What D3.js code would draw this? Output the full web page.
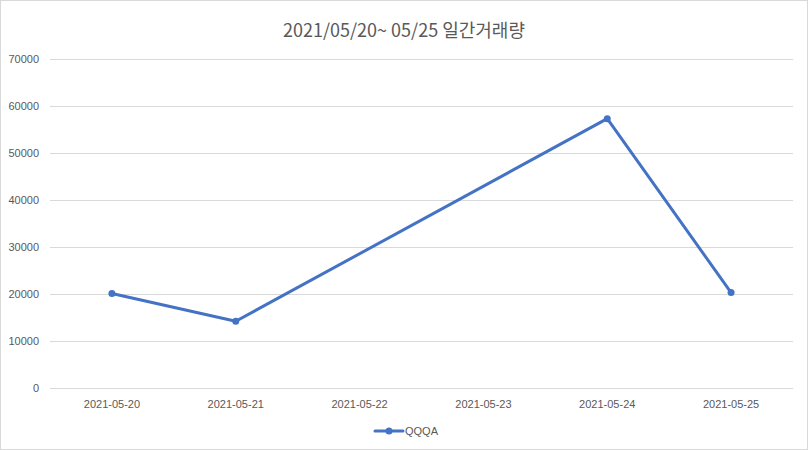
<!DOCTYPE html>
<html>
<head>
<meta charset="utf-8">
<script src="https://cdn.jsdelivr.net/npm/d3@7"></script>
<style>
  body { margin: 0; background: #fff; }
  svg { display: block; }
</style>
</head>
<body>
<script>
// chart data
var dates = ["2021-05-20", "2021-05-21", "2021-05-22", "2021-05-23", "2021-05-24", "2021-05-25"];
var volumes = [20100, 14200, null, null, 57300, 20300];
var yTicks = [0, 10000, 20000, 30000, 40000, 50000, 60000, 70000];
var seriesName = "QQQA";
var title = "2021/05/20~ 05/25 일간거래량";

var W = 808, H = 450;
var margin = {top: 59, right: 15, bottom: 62, left: 50},
    width = W - margin.left - margin.right,
    height = H - margin.top - margin.bottom;

var svg = d3.select("body").append("svg")
    .attr("width", W)
    .attr("height", H);

// outer border
svg.append("rect")
    .attr("x", 0.5).attr("y", 0.5)
    .attr("width", W - 1).attr("height", H - 1)
    .attr("fill", "#fff")
    .attr("stroke", "#d9d9d9");

svg.append("text")
    .attr("x", W / 2)
    .attr("y", 37)
    .attr("text-anchor", "middle")
    .style("font-family", "'Noto Sans CJK KR', 'Noto Sans', sans-serif")
    .style("font-size", "18px")
    .style("fill", "#595959")
    .text(title);

var g = svg.append("g")
    .attr("transform", "translate(" + margin.left + "," + margin.top + ")");

var x = d3.scaleBand()
    .domain(dates)
    .range([0, width]);

var y = d3.scaleLinear()
    .domain([0, 70000])
    .range([height, 0]);

// gridlines
g.append("g")
    .selectAll("line")
    .data(yTicks)
    .enter().append("line")
    .attr("x1", 0)
    .attr("x2", width)
    .attr("y1", function(d) { return Math.round(y(d)) + 0.5; })
    .attr("y2", function(d) { return Math.round(y(d)) + 0.5; })
    .attr("stroke", "#d9d9d9")
    .attr("stroke-width", 1);

// y axis labels
var yAxis = g.append("g")
    .call(d3.axisLeft(y).tickValues(yTicks).tickSize(0).tickPadding(11).tickFormat(d3.format("d")));
yAxis.select(".domain").remove();
yAxis.selectAll("text")
    .style("font-family", "'Liberation Sans', Arial, sans-serif")
    .style("font-size", "11px")
    .style("fill", "#595959");

// x axis labels
var xAxis = g.append("g")
    .attr("transform", "translate(0," + height + ")")
    .call(d3.axisBottom(x).tickSize(0).tickPadding(12));
xAxis.select(".domain").remove();
xAxis.selectAll("text")
    .style("font-family", "'Liberation Sans', Arial, sans-serif")
    .style("font-size", "11px")
    .style("fill", "#595959");

var pts = dates.map(function(d, i) { return {date: d, value: volumes[i]}; })
    .filter(function(d) { return d.value != null; });

var line = d3.line()
    .x(function(d) { return x(d.date) + x.bandwidth() / 2; })
    .y(function(d) { return y(d.value); });

g.append("path")
    .datum(pts)
    .attr("fill", "none")
    .attr("stroke", "#4472c4")
    .attr("stroke-width", 3)
    .attr("stroke-linejoin", "round")
    .attr("stroke-linecap", "round")
    .attr("d", line);

g.selectAll(".dot")
    .data(pts)
    .enter().append("circle")
    .attr("class", "dot")
    .attr("cx", function(d) { return x(d.date) + x.bandwidth() / 2; })
    .attr("cy", function(d) { return y(d.value); })
    .attr("r", 3.5)
    .attr("fill", "#4472c4");

// legend
var legend = svg.append("g")
    .attr("transform", "translate(375,431)");
legend.append("line")
    .attr("x1", 0).attr("x2", 28)
    .attr("stroke", "#4472c4")
    .attr("stroke-width", 3)
    .attr("stroke-linecap", "round");
legend.append("circle")
    .attr("cx", 14).attr("r", 3.5)
    .attr("fill", "#4472c4");
legend.append("text")
    .attr("x", 30)
    .attr("dy", "0.35em")
    .style("font-family", "'Liberation Sans', Arial, sans-serif")
    .style("font-size", "11px")
    .style("fill", "#595959")
    .text(seriesName);
</script>
</body>
</html>
